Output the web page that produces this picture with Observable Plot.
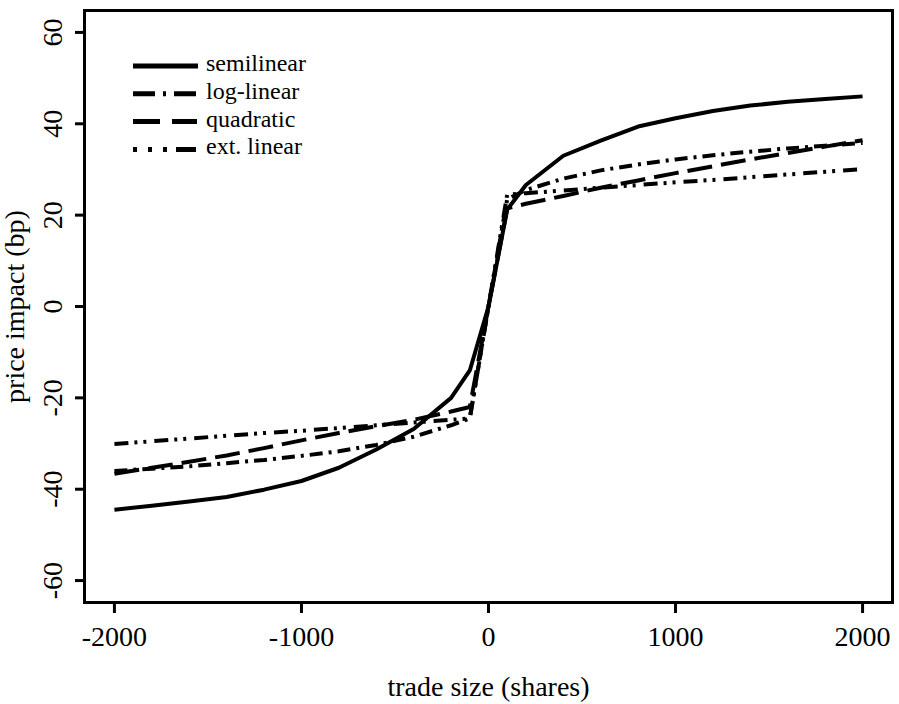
<!DOCTYPE html>
<html>
<head>
<meta charset="utf-8">
<script src="https://cdn.jsdelivr.net/npm/d3@7"></script>
<script src="https://cdn.jsdelivr.net/npm/@observablehq/plot@0.6"></script>
<style>
  html, body { margin: 0; padding: 0; background: #fff; }
  #chart { position: relative; width: 899px; height: 704px; }
  #chart svg, #chart svg text {
    font-family: "Liberation Serif", "Times New Roman", "DejaVu Serif", "Noto Serif", serif !important;
  }
</style>
</head>
<body>
<div id="chart"></div>
<script>
// Trade sizes (shares) at which each price-impact model is evaluated
const tradeSize = [-2000, -1800, -1600, -1400, -1200, -1000, -800, -600, -400, -200, -100, 0,
                   100, 200, 400, 600, 800, 1000, 1200, 1400, 1600, 1800, 2000];

// Price impact (bp) for each model
const semilinear = [-44.5, -43.6, -42.7, -41.7, -40.1, -38.2, -35.3, -31.3, -26.8, -20.0, -14.0, 0,
                    21.2, 26.6, 33.0, 36.3, 39.4, 41.2, 42.8, 44.0, 44.8, 45.4, 46.0];
const logLinear  = [-36.0, -35.5, -35.0, -34.3, -33.6, -32.7, -31.7, -30.3, -28.5, -26.0, -24.5, 0,
                    23.5, 25.5, 28.0, 29.8, 31.1, 32.2, 33.1, 33.9, 34.6, 35.2, 35.8];
const quadratic  = [-36.6, -35.3, -34.0, -32.6, -31.0, -29.3, -27.7, -26.2, -24.8, -23.0, -22.0, 0,
                    21.5, 22.5, 24.2, 26.0, 27.6, 29.2, 30.7, 32.2, 33.6, 35.0, 36.4];
const extLinear  = [-30.1, -29.5, -28.9, -28.3, -27.7, -27.2, -26.6, -26.0, -25.4, -24.8, -24.5, 0,
                    24.5, 24.8, 25.4, 26.0, 26.6, 27.2, 27.7, 28.3, 28.9, 29.5, 30.1];

const seriesNames = ["semilinear", "log-linear", "quadratic", "ext. linear"];
const seriesValues = [semilinear, logLinear, quadratic, extLinear];

// Axis ticks
const xTicks = [-2000, -1000, 0, 1000, 2000];
const yTicks = [-60, -40, -20, 0, 20, 40, 60];

// Line styles: dash pattern in the plot area and in the key
const plotDash = ["none", "13,6,3,6", "25,9", "14,6,3,6,3,8"];
const keyDash  = ["none", "22,8,3,8,22", "27,12,25", "4,11,4,11,4,9,20"];

const rows = seriesNames.flatMap((name, i) =>
  tradeSize.map((x, j) => ({series: name, x, y: seriesValues[i][j]}))
);

const chart = Plot.plot({
  width: 899,
  height: 704,
  marginLeft: 84,
  marginRight: 7,
  marginTop: 10,
  marginBottom: 102,
  style: {fontSize: "28px", color: "black", background: "white"},
  x: {domain: [-2160, 2160]},
  y: {domain: [-64.8, 64.8]},
  marks: [
    Plot.axisX({
      ticks: xTicks, tickSize: 11, strokeWidth: 3, tickPadding: 13,
      tickFormat: d => String(d),
      label: "trade size (shares)", labelAnchor: "center", labelOffset: 93, labelArrow: "none"
    }),
    Plot.axisY({
      ticks: yTicks, tickSize: 9, strokeWidth: 3, tickRotate: -90, tickPadding: 14,
      tickFormat: d => String(d),
      label: "price impact (bp)", labelAnchor: "center", labelOffset: 80, labelArrow: "none"
    }),
    ...seriesNames.map((name, i) =>
      Plot.line(rows.filter(d => d.series === name), {
        x: "x", y: "y",
        stroke: "black",
        strokeWidth: 4,
        strokeDasharray: plotDash[i],
        strokeLinecap: "butt",
        strokeLinejoin: "round"
      })
    ),
    Plot.frame({stroke: "black", strokeWidth: 3})
  ]
});

document.getElementById("chart").appendChild(chart);

// Key in the upper-left corner of the plot area
const key = d3.select(chart).append("g")
  .attr("font-size", 24)
  .attr("text-anchor", "start");
seriesNames.forEach((name, i) => {
  const yy = 66 + i * 27.8;
  key.append("line")
    .attr("x1", 133).attr("x2", 198)
    .attr("y1", yy).attr("y2", yy)
    .attr("stroke", "black")
    .attr("stroke-width", 5)
    .attr("stroke-dasharray", keyDash[i]);
  key.append("text")
    .attr("x", 206).attr("y", yy + 5)
    .attr("fill", "black")
    .text(name);
});
</script>
</body>
</html>
